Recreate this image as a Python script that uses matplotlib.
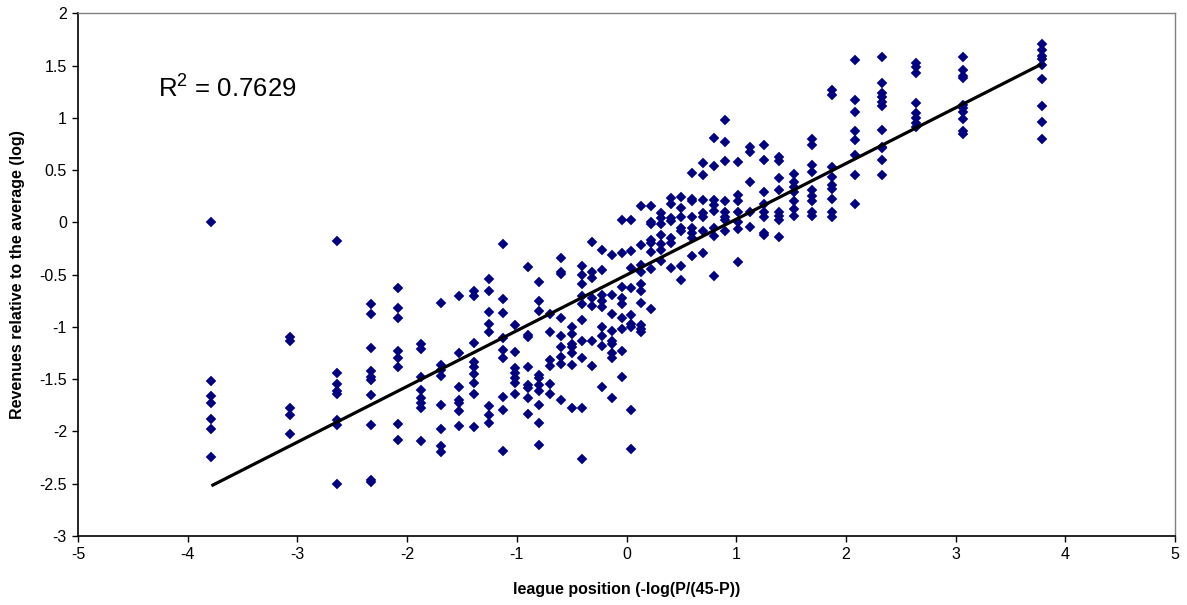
import matplotlib
matplotlib.use("Agg")
import matplotlib.pyplot as plt
import numpy as np

plt.rcParams['font.family'] = ['Liberation Sans', 'DejaVu Sans']
plt.rcParams['mathtext.fontset'] = 'custom'
plt.rcParams['mathtext.rm'] = 'Liberation Sans'
plt.rcParams['mathtext.it'] = 'Liberation Sans'
plt.rcParams['mathtext.default'] = 'regular'

# League position transform values (x) for P = 44 ... 1
positions = [-3.784, -3.068, -2.639, -2.327, -2.079, -1.872, -1.692, -1.531,
             -1.386, -1.253, -1.128, -1.012, -0.901, -0.795, -0.693, -0.595,
             -0.499, -0.405, -0.314, -0.223, -0.134, -0.044, 0.044, 0.134,
             0.223, 0.314, 0.405, 0.499, 0.595, 0.693, 0.795, 0.901, 1.012,
             1.128, 1.253, 1.386, 1.531, 1.692, 1.872, 2.079, 2.327, 2.639,
             3.068, 3.784]

# Revenues relative to average (log), one list per league position
revenues = [
    [0.0, -1.52, -1.66, -1.73, -1.88, -1.98, -2.24],
    [-1.10, -1.13, -1.78, -1.84, -2.02],
    [-0.18, -1.44, -1.55, -1.61, -1.64, -1.89, -1.94, -2.50],
    [-0.78, -0.88, -1.20, -1.42, -1.48, -1.51, -1.65, -1.94, -2.46, -2.48],
    [-0.63, -0.82, -0.91, -1.23, -1.30, -1.38, -1.93, -2.08],
    [-1.16, -1.21, -1.48, -1.60, -1.68, -1.73, -1.78, -2.09],
    [-0.77, -1.36, -1.41, -1.47, -1.75, -1.98, -2.14, -2.20],
    [-0.70, -1.25, -1.57, -1.70, -1.73, -1.80, -1.95],
    [-0.66, -0.70, -1.15, -1.34, -1.38, -1.45, -1.54, -1.64, -1.96],
    [-0.54, -0.66, -0.86, -0.97, -1.05, -1.76, -1.84, -1.92],
    [-0.21, -0.73, -0.87, -1.11, -1.22, -1.30, -1.67, -1.79, -2.19],
    [-0.98, -1.24, -1.39, -1.44, -1.49, -1.54, -1.64],
    [-0.43, -1.08, -1.10, -1.38, -1.56, -1.58, -1.68, -1.83],
    [-0.57, -0.75, -0.85, -1.46, -1.49, -1.56, -1.61, -1.75, -1.92, -2.13],
    [-0.88, -1.05, -1.32, -1.37, -1.55, -1.64],
    [-0.34, -0.47, -0.49, -0.91, -1.09, -1.19, -1.29, -1.35, -1.70],
    [-1.00, -1.07, -1.16, -1.19, -1.25, -1.36, -1.78],
    [-0.42, -0.50, -0.59, -0.70, -0.78, -0.93, -1.13, -1.30, -1.78, -2.26],
    [-0.19, -0.47, -0.53, -0.72, -0.80, -1.13, -1.37],
    [-0.26, -0.46, -0.69, -0.75, -0.81, -1.00, -1.09, -1.18, -1.57],
    [-0.31, -0.69, -0.88, -1.04, -1.13, -1.16, -1.25, -1.30, -1.68],
    [0.02, -0.29, -0.62, -0.72, -0.78, -0.91, -1.02, -1.23, -1.48],
    [0.02, -0.27, -0.44, -0.63, -0.89, -0.97, -1.00, -1.79, -2.17],
    [0.16, -0.22, -0.41, -0.47, -0.59, -0.66, -0.77, -0.98, -1.02, -1.05],
    [0.16, 0.00, -0.02, -0.17, -0.20, -0.28, -0.45, -0.83],
    [0.09, 0.04, -0.02, -0.12, -0.21, -0.26, -0.37],
    [0.23, 0.18, 0.04, 0.01, -0.15, -0.20, -0.44],
    [0.24, 0.14, 0.05, -0.05, -0.08, -0.42, -0.55],
    [0.47, 0.22, 0.20, 0.05, -0.05, -0.10, -0.15, -0.32],
    [0.57, 0.45, 0.21, 0.09, 0.05, -0.08, -0.29],
    [0.81, 0.54, 0.21, 0.17, 0.11, -0.05, -0.13, -0.51],
    [0.98, 0.77, 0.59, 0.20, 0.10, 0.05, 0.02, -0.08],
    [0.58, 0.26, 0.20, 0.10, 0.00, -0.06, -0.38],
    [0.72, 0.67, 0.39, 0.10, -0.04],
    [0.74, 0.60, 0.29, 0.18, 0.10, 0.05, -0.10, -0.12],
    [0.63, 0.59, 0.42, 0.31, 0.10, 0.06, 0.02, -0.14],
    [0.46, 0.39, 0.34, 0.29, 0.20, 0.13, 0.06],
    [0.80, 0.74, 0.55, 0.48, 0.31, 0.25, 0.20, 0.10, 0.06],
    [1.27, 1.22, 0.53, 0.43, 0.36, 0.32, 0.22, 0.10, 0.05],
    [1.55, 1.17, 1.06, 0.87, 0.79, 0.64, 0.45, 0.18],
    [1.585, 1.33, 1.24, 1.20, 1.15, 1.11, 0.88, 0.72, 0.71, 0.60, 0.45],
    [1.52, 1.49, 1.43, 1.14, 1.05, 1.00, 0.95, 0.91],
    [1.585, 1.46, 1.40, 1.38, 1.12, 1.09, 1.06, 0.99, 0.87, 0.85],
    [1.71, 1.65, 1.59, 1.56, 1.51, 1.37, 1.11, 0.96, 0.80],
]

# Linear trend line (as displayed)
trend_slope = 0.533
trend_intercept = -0.503
r_squared_label = r"R$^{2}$ = 0.7629"

x_ticks = [-5, -4, -3, -2, -1, 0, 1, 2, 3, 4, 5]
y_ticks = [-3, -2.5, -2, -1.5, -1, -0.5, 0, 0.5, 1, 1.5, 2]

xs = []
ys = []
for xp, col in zip(positions, revenues):
    xs.extend([xp] * len(col))
    ys.extend(col)

fig = plt.figure(figsize=(11.87, 6.05), dpi=100)
ax = fig.add_axes([78 / 1187, 1 - 536 / 605, (1175 - 78) / 1187, (536 - 13.3) / 605])

ax.plot(xs, ys, linestyle='none', marker='D', markersize=5.2,
        markerfacecolor='#000080', markeredgecolor='#000080', markeredgewidth=0.3,
        zorder=2)

lx = np.array([min(positions), max(positions)])
ax.plot(lx, trend_slope * lx + trend_intercept, color='black', linewidth=2.3,
        solid_capstyle='butt', zorder=3)

ax.set_xlim(-5, 5)
ax.set_ylim(-3, 2)
ax.set_xticks(x_ticks)
ax.set_xticklabels([f"{t:g}" for t in x_ticks])
ax.set_yticks(y_ticks)
ax.set_yticklabels([f"{t:g}" for t in y_ticks])
ax.tick_params(direction='out', length=4, width=1, labelsize=11.5, colors='black', pad=4)

for side in ['top', 'right']:
    ax.spines[side].set_color('#808080')
    ax.spines[side].set_linewidth(1)
for side in ['left', 'bottom']:
    ax.spines[side].set_color('black')
    ax.spines[side].set_linewidth(1.2)

ax.set_xlabel("league position (-log(P/(45-P))", fontsize=11.5, fontweight='bold', labelpad=14)
ax.set_ylabel("Revenues relative to the average (log)", fontsize=11.5, fontweight='bold', labelpad=10)

ax.text(-4.27, 1.19, r_squared_label, fontsize=18.5, ha='left', va='baseline')

fig.savefig("out.png", dpi=100)
